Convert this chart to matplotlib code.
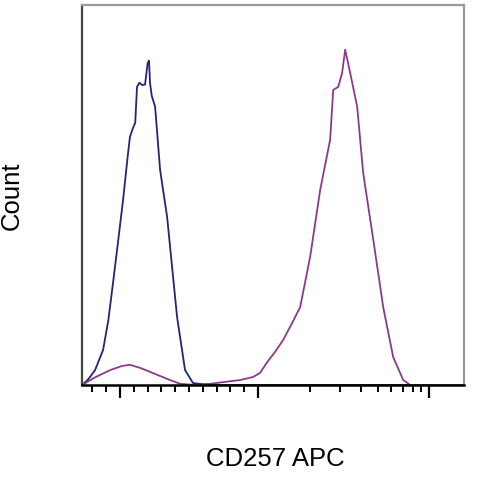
import matplotlib
matplotlib.use("Agg")
import matplotlib.pyplot as plt
import numpy as np

# unstained / isotype (navy)
ctrl_x = [-275, -230, -181, -123, -85, -51, -15, 22, 55, 72, 94, 110, 123,
          140, 159, 181, 200, 210, 217, 230, 254, 290, 341, 413, 471, 529,
          600, 700, 900, 1300, 2500, 6000, 16000]
ctrl_y = [0, 1.5, 3.9, 9.2, 17.0, 26.8, 37.5, 48.7, 60.0, 65.3, 67.6, 69.0,
          78.4, 79.5, 78.9, 79.0, 84.7, 85.3, 79.5, 76.0, 73.2, 56.6, 44.2,
          17.9, 3.9, 0.5, 0.2, 0, 0, 0, 0, 0, 0]

# CD257 APC stained (purple)
stain_x = [-275, -181, -72, 14, 72, 145, 254, 362, 435, 543, 652, 761, 870,
           964, 1028, 1130, 1256, 1400, 1581, 1762, 2014, 2306, 2636, 2748,
           2938, 3097, 3228, 3451, 3793, 4111, 4710, 5383, 6152, 7047, 7745,
           16000]
stain_y = [0, 2.0, 3.9, 5.0, 5.3, 4.5, 2.9, 1.3, 0.3, 0, 0.3, 0.8, 1.3,
           2.1, 3.2, 6.0, 8.7, 11.8, 16.3, 20.5, 33.7, 51.3, 64.5, 77.6,
           78.4, 82.1, 88.2, 82.1, 73.2, 55.8, 38.2, 20.5, 7.4, 1.3, 0, 0]

major_ticks = [0, 1000, 10000]
minor_ticks = [-200, -100, 100, 200, 300, 400, 500, 600, 700, 800, 900,
               2000, 3000, 4000, 5000, 6000, 7000, 8000, 9000]

fig = plt.figure(figsize=(4.8, 4.8), dpi=100)
ax = fig.add_axes([0.171, 0.198, 0.796, 0.792])

ax.plot(ctrl_x, ctrl_y, color="#24247a", lw=1.3)
ax.plot(stain_x, stain_y, color="#8a3a8c", lw=1.3)

ax.set_xscale("symlog", linthresh=1000, linscale=0.726)
ax.set_xlim(-275, 16000)
ax.set_ylim(0, 100)

ax.set_xticks(major_ticks)
ax.set_xticks(minor_ticks, minor=True)
ax.set_xticklabels([])
ax.set_yticks([])
ax.tick_params(axis="x", which="major", length=9, width=1.6, direction="out", color="black")
ax.tick_params(axis="x", which="minor", length=5, width=1.4, direction="out", color="black")

ax.spines["top"].set_color("#9a9a9a")
ax.spines["right"].set_color("#9a9a9a")
ax.spines["top"].set_linewidth(1.6)
ax.spines["right"].set_linewidth(1.6)
ax.spines["left"].set_color("#444444")
ax.spines["left"].set_linewidth(1.6)
ax.spines["bottom"].set_color("black")
ax.spines["bottom"].set_linewidth(1.8)

fig.text(0.573, 0.043, "CD257 APC", ha="center", va="center",
         fontsize=18.5, family="Liberation Sans")
fig.text(0.025, 0.592, "Count", ha="center", va="center", rotation=90,
         fontsize=18.5, family="Liberation Sans")

fig.savefig("out.png", dpi=100)
